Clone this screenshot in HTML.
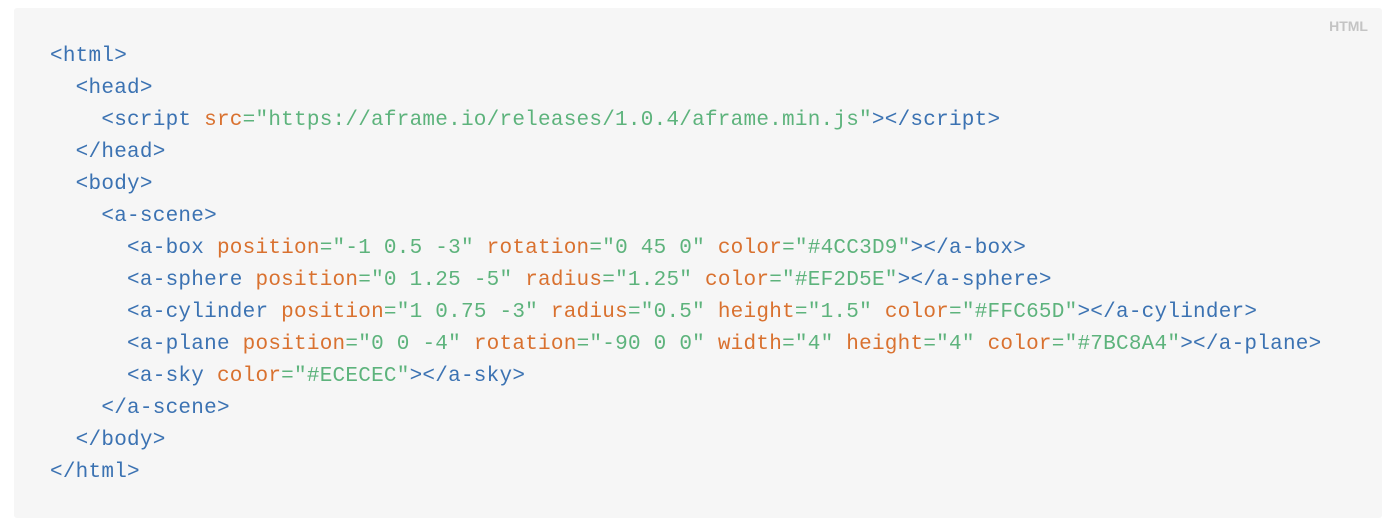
<!DOCTYPE html>
<html><head><style>
body{margin:0;background:#fff;width:1400px;height:528px;overflow:hidden}
.box{position:absolute;left:14px;top:8px;width:1368px;height:510px;background:#f6f6f6;border-radius:3px}
.lbl{position:absolute;right:14px;top:10px;font:bold 14px "Liberation Sans",sans-serif;color:#c4c4c4}
pre{position:absolute;left:36px;top:33px;margin:0;font:21px/32px "Liberation Mono",monospace;letter-spacing:0.24px;color:#3b72b2}
.a{color:#d9712f}.s{color:#5db37c}
</style></head><body><div class="box"><div class="lbl">HTML</div>
<pre>&lt;html&gt;
  &lt;head&gt;
    &lt;script <span class="a">src</span><span class="s">="https://aframe.io/releases/1.0.4/aframe.min.js"</span>&gt;&lt;/script&gt;
  &lt;/head&gt;
  &lt;body&gt;
    &lt;a-scene&gt;
      &lt;a-box <span class="a">position</span><span class="s">="-1 0.5 -3"</span> <span class="a">rotation</span><span class="s">="0 45 0"</span> <span class="a">color</span><span class="s">="#4CC3D9"</span>&gt;&lt;/a-box&gt;
      &lt;a-sphere <span class="a">position</span><span class="s">="0 1.25 -5"</span> <span class="a">radius</span><span class="s">="1.25"</span> <span class="a">color</span><span class="s">="#EF2D5E"</span>&gt;&lt;/a-sphere&gt;
      &lt;a-cylinder <span class="a">position</span><span class="s">="1 0.75 -3"</span> <span class="a">radius</span><span class="s">="0.5"</span> <span class="a">height</span><span class="s">="1.5"</span> <span class="a">color</span><span class="s">="#FFC65D"</span>&gt;&lt;/a-cylinder&gt;
      &lt;a-plane <span class="a">position</span><span class="s">="0 0 -4"</span> <span class="a">rotation</span><span class="s">="-90 0 0"</span> <span class="a">width</span><span class="s">="4"</span> <span class="a">height</span><span class="s">="4"</span> <span class="a">color</span><span class="s">="#7BC8A4"</span>&gt;&lt;/a-plane&gt;
      &lt;a-sky <span class="a">color</span><span class="s">="#ECECEC"</span>&gt;&lt;/a-sky&gt;
    &lt;/a-scene&gt;
  &lt;/body&gt;
&lt;/html&gt;</pre></div></body></html>
